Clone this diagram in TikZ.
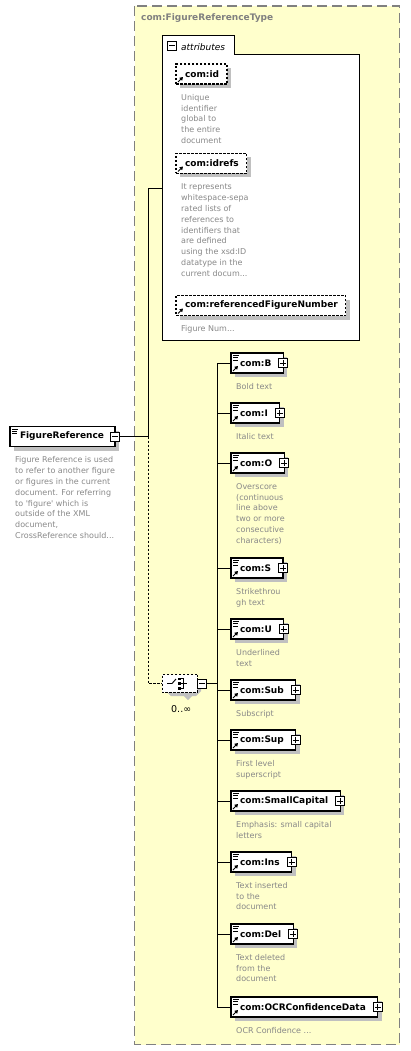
\documentclass[tikz,border=0pt]{standalone}
\usepackage{fontspec}
\setmainfont{DejaVu Sans}
\usetikzlibrary{shadows,shapes.misc,arrows.meta}
\definecolor{yel}{RGB}{255,255,204}
\definecolor{desc}{RGB}{136,136,136}
\definecolor{shad}{RGB}{192,192,192}
\definecolor{ttl}{RGB}{128,128,128}
\tikzset{
  shd/.style={drop shadow={shadow xshift=4pt,shadow yshift=-4pt,fill=shad,draw=none,opacity=1}},
  elbox/.style={draw=black,fill=white,line width=1.2pt,inner sep=0pt,outer sep=0pt,
    minimum height=20pt,font=\fontsize{9}{10}\selectfont\bfseries,anchor=west,shd},
  attbox/.style={elbox,dash pattern=on 2.5pt off 1.5pt},
  dtext/.style={anchor=north west,inner sep=0pt,align=left,text=desc,
    font=\fontsize{8}{10.85}\selectfont},
  conn/.style={line width=1pt},
  pm/.style={draw=black,fill=white,line width=0.8pt,minimum size=9pt,inner sep=0pt},
  lic/.style={line width=0.8pt},
}
\newcommand\lineicon[1]{%
  \draw[lic] ([xshift=2pt,yshift=-2.5pt]#1.north west) -- ++(6pt,0);
  \draw[lic] ([xshift=2pt,yshift=-4.7pt]#1.north west) -- ++(4.5pt,0);
  \draw[lic] ([xshift=2pt,yshift=-6.9pt]#1.north west) -- ++(4.5pt,0);}
\newcommand\refarrow[1]{%
  \draw[line width=1pt,-{Triangle[length=3.2pt,width=3.8pt]}]
    ([xshift=2pt,yshift=2pt]#1.south west) -- ++(5pt,5pt);}
\newcommand\plusbox[1]{%
  \node[pm] (#1p) at (#1.east) {};
  \draw[line width=0.8pt] ([xshift=-3pt]#1p.center) -- ([xshift=3pt]#1p.center);
  \draw[line width=0.8pt] ([yshift=-3pt]#1p.center) -- ([yshift=3pt]#1p.center);}
\newcommand\kid[4]{%
  \node[elbox] (#1) at (231,#2) {\hspace*{9pt}#3\hspace*{12pt}};
  \lineicon{#1}\refarrow{#1}\plusbox{#1}
  \node[dtext] (#1d) at ([xshift=5pt,yshift=-8.4pt]#1.south west) {\strut #4};
  \coordinate (s#1) at (217,#2);
  \draw[conn] (s#1) -- (#1.west);}
\newcommand\att[4]{%
  \node[attbox] (#1) at (176,#2) {\hspace*{9pt}#3\hspace*{8pt}};
  \refarrow{#1}
  \node[dtext] (#1d) at ([xshift=5pt,yshift=-8.4pt]#1.south west) {\strut #4};}
\begin{document}
\begin{tikzpicture}[x=1pt,y=-1pt]
\useasboundingbox (0,0) rectangle (410,1051);
% outer complex type box
\draw[draw=ttl,fill=yel,line width=1.3pt,dash pattern=on 10pt off 5pt]
  (134.5,6) rectangle (399.5,1044.5);
\node[anchor=base west,inner sep=0pt,text=ttl,font=\fontsize{9}{10}\selectfont\bfseries]
  (title) at (141,21) {com:FigureReferenceType};
% attributes box
\draw[fill=white,line width=1pt] (162,36) -- (234,36) -- (234,55) -- (359,55)
  -- (359,340) -- (162,340) -- cycle;
\node[pm] (attm) at (172,45.5) {};
\draw[line width=0.8pt] ([xshift=-3pt]attm.center) -- ([xshift=3pt]attm.center);
\node[anchor=base west,inner sep=0pt,font=\fontsize{9}{10}\selectfont\itshape]
  (attl) at (181,50.5) {attributes};
\coordinate (attL) at (162,188);
\att{aid}{74}{com:id}{Unique\\identifier\\global to\\the entire\\document}
\att{aidrefs}{163.5}{com:idrefs}{It represents\\whitespace-sepa\\rated lists of\\references to\\identifiers that\\are defined\\using the xsd:ID\\datatype in the\\current docum...}
\att{aref}{305.5}{com:referencedFigureNumber}{Figure Num...}
% root element
\node[elbox] (fr) at (10,436.5) {\hspace*{10pt}FigureReference\hspace*{11pt}};
\lineicon{fr}
\node[pm] (frm) at (fr.east) {};
\draw[line width=0.8pt] ([xshift=-3pt]frm.center) -- ([xshift=3pt]frm.center);
\node[dtext] (frd) at ([xshift=5pt,yshift=-8.4pt]fr.south west) {\strut Figure Reference is used\\to refer to another figure\\or figures in the current\\document. For referring\\to \textquotesingle figure\textquotesingle\ which is\\outside of the XML\\document,\\CrossReference should...};
% sequence compositor
\fill[shad] (171,678) -- (196,678) -- (201,683) -- (201,691) -- (196,696) -- (192,696)
  -- (188,700) -- (184,696) -- (171,696) -- (166,691) -- (166,683) -- cycle;
\node[chamfered rectangle,chamfered rectangle xsep=5pt,chamfered rectangle ysep=5pt,
  draw=black,fill=white,line width=1pt,dash pattern=on 2.5pt off 1.5pt,
  minimum width=35pt,minimum height=18pt,inner sep=0pt,outer sep=0pt] (seq) at (179.5,683.5) {};
\draw[line width=0.9pt] (167,683.5) -- (172,683.5) -- (176,679);
\fill (178,677.5) rectangle (180.5,680);
\fill (178,682.3) rectangle (180.5,684.8);
\fill (178,687) rectangle (180.5,689.5);
\draw[line width=0.8pt] (180.5,678.7) -- (183.5,678.7) -- (183.5,688.2) -- (180.5,688.2);
\draw[line width=0.8pt] (180.5,683.5) -- (187,683.5);
\node[pm] (seqm) at (202,683.5) {};
\draw[line width=0.8pt] ([xshift=-3pt]seqm.center) -- ([xshift=3pt]seqm.center);
\node[anchor=base west,inner sep=0pt,font=\fontsize{9.5}{10}\selectfont] (mult) at (171,712) {0..∞};
% connectors from root
\coordinate (j) at (148,436.5);
\draw[conn] (frm.east) -- (j);
\draw[conn] (j) |- (attL);
\draw[conn,dash pattern=on 2.5pt off 1.5pt] (j) |- (seq.west);
% children
\kid{B}{363}{com:B}{Bold text}
\kid{I}{413}{com:I}{Italic text}
\kid{O}{463}{com:O}{Overscore\\(continuous\\line above\\two or more\\consecutive\\characters)}
\kid{S}{568}{com:S}{Strikethrou\\gh text}
\kid{U}{629}{com:U}{Underlined\\text}
\kid{Sub}{690}{com:Sub}{Subscript}
\kid{Sup}{740}{com:Sup}{First level\\superscript}
\kid{SC}{801}{com:SmallCapital}{Emphasis: small capital\\letters}
\kid{Ins}{862}{com:Ins}{Text inserted\\to the\\document}
\kid{Del}{934}{com:Del}{Text deleted\\from the\\document}
\kid{OCR}{1007}{com:OCRConfidenceData}{OCR Confidence ...}
\coordinate (spj) at (217,683.5);
\draw[conn] (seqm.east) -- (spj);
\draw[conn] (sB) -- (sOCR);
\end{tikzpicture}
\end{document}
